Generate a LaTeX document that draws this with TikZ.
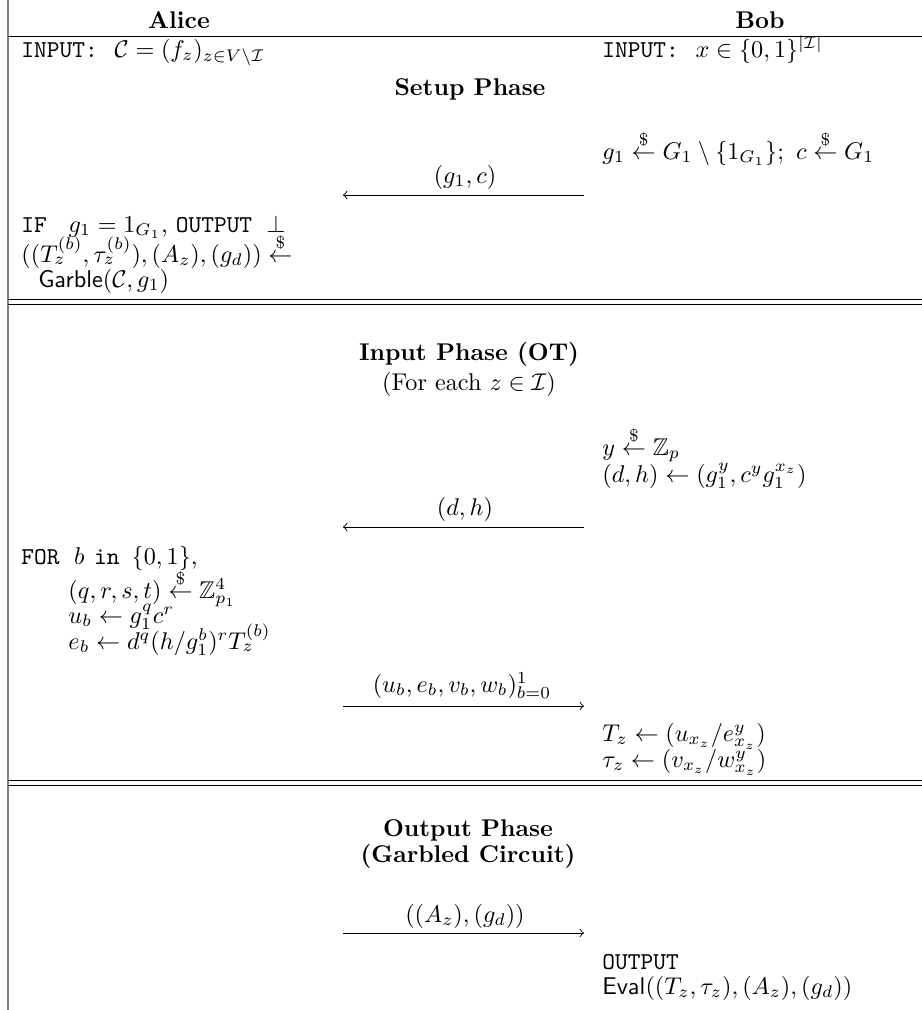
\documentclass[tikz,border=0pt]{standalone}
\usepackage{amsmath,amssymb}
\newcommand{\smp}{\overset{\$}{\leftarrow}}
\begin{document}
\begin{tikzpicture}[x=0.4132pt,y=-0.4132pt,
  txt/.style={inner sep=0pt,anchor=base west},
  ctr/.style={inner sep=0pt,anchor=base},
  hrule/.style={line width=0.4pt},
  msg/.style={line width=0.4pt,->},
  lbl/.style={inner sep=0pt,anchor=base}]
\useasboundingbox (0,0) rectangle (922,1010);
\draw[gray,line width=0.6pt] (8,0) -- (8,1010);
\node[ctr,font=\bfseries] (alice) at (179,28) {Alice};
\node[ctr,font=\bfseries] (bob) at (760,28) {Bob};
\draw[hrule] (8,36) -- (922,36);
% setup phase
\node[txt] (aIn) at (21,57) {\texttt{INPUT:}\hspace{7pt}$\mathcal{C} = (f_z)_{z\in V\setminus\mathcal{I}}$};
\node[txt] (bIn) at (602,57) {\texttt{INPUT:}\hspace{7pt}$x\in\{0,1\}^{|\mathcal{I}|}$};
\node[ctr,font=\bfseries] (setup) at (470,95) {Setup Phase};
\node[txt] (bS) at (602,159) {$g_1 \smp G_1\setminus\{1_{G_1}\};\ c\smp G_1$};
\coordinate (m1s) at (584,195);
\coordinate (m1e) at (343,195);
\draw[msg] (m1s) -- (m1e);
\node[lbl] (m1) at (465,183) {$(g_1,c)$};
\node[txt] (a1) at (21,232) {\texttt{IF}\hspace{9pt}$g_1 = 1_{G_1}$, \texttt{OUTPUT}\hspace{6pt}$\bot$};
\node[txt] (a2) at (21,262) {$((T_z^{(b)},\tau_z^{(b)}),(A_z),(g_d)) \smp$};
\node[txt] (a3) at (38,287) {$\mathsf{Garble}(\mathcal{C},g_1)$};
\draw[hrule] (8,299) -- (922,299);
\draw[hrule] (8,304) -- (922,304);
% input phase
\node[ctr,font=\bfseries] (inph) at (469,360) {Input Phase (OT)};
\node[ctr] (inph2) at (469,390) {(For each $z\in\mathcal{I}$)};
\node[txt] (b1) at (602,455) {$y\smp\mathbb{Z}_p$};
\node[txt] (b2) at (602,482) {$(d,h)\leftarrow(g_1^y, c^y g_1^{x_z})$};
\coordinate (m2s) at (584,527);
\coordinate (m2e) at (343,527);
\draw[msg] (m2s) -- (m2e);
\node[lbl] (m2) at (465,515) {$(d,h)$};
\node[txt] (a4) at (21,564) {\texttt{FOR}\hspace{6pt}$b$\hspace{4pt}\texttt{in}\hspace{5pt}$\{0,1\}$,};
\node[txt] (a5) at (68,598) {$(q,r,s,t)\smp\mathbb{Z}_{p_1}^4$};
\node[txt] (a6) at (68,623) {$u_b\leftarrow g_1^q c^r$};
\node[txt] (a7) at (68,649) {$e_b\leftarrow d^q(h/g_1^b)^r T_z^{(b)}$};
\coordinate (m3s) at (343,706);
\coordinate (m3e) at (584,706);
\draw[msg] (m3s) -- (m3e);
\node[lbl] (m3) at (462,692) {$(u_b,e_b,v_b,w_b)_{b=0}^1$};
\node[txt] (b3) at (602,741) {$T_z\leftarrow(u_{x_z}/e_{x_z}^y)$};
\node[txt] (b4) at (602,767) {$\tau_z\leftarrow(v_{x_z}/w_{x_z}^y)$};
\draw[hrule] (8,780) -- (922,780);
\draw[hrule] (8,785) -- (922,785);
% output phase
\node[ctr,font=\bfseries] (outph) at (468,836) {Output Phase};
\node[ctr,font=\bfseries] (outph2) at (468,862) {(Garbled Circuit)};
\coordinate (m4s) at (343,933);
\coordinate (m4e) at (584,933);
\draw[msg] (m4s) -- (m4e);
\node[lbl] (m4) at (465,922) {$((A_z),(g_d))$};
\node[txt] (b5) at (602,969) {\texttt{OUTPUT}};
\node[txt] (b6) at (602,994) {$\mathsf{Eval}((T_z,\tau_z),(A_z),(g_d))$};
\end{tikzpicture}
\end{document}
